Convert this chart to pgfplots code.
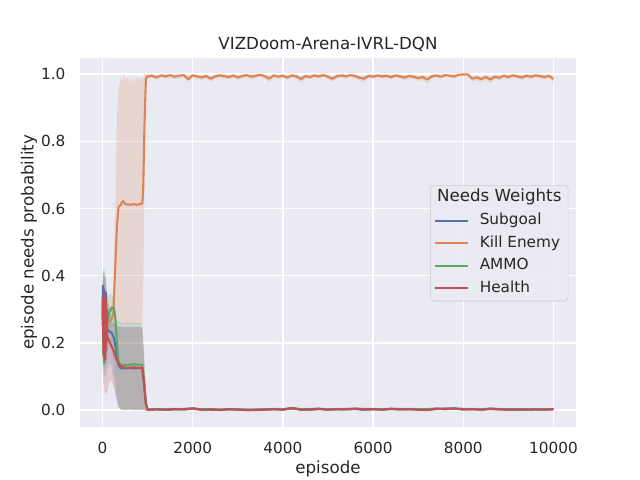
\documentclass[border=0pt]{standalone}
\usepackage{fontspec}
\setmainfont{DejaVu Sans}
\usepackage{pgfplots}
\usepackage{pgfplotstable}
\pgfplotsset{compat=1.18}
\usepgfplotslibrary{fillbetween}
\definecolor{cblue}{HTML}{4C72B0}
\definecolor{corange}{HTML}{DD8452}
\definecolor{cgreen}{HTML}{55A868}
\definecolor{cred}{HTML}{C44E52}
\definecolor{axisbg}{HTML}{EAEAF2}
\definecolor{txt}{HTML}{262626}
\definecolor{lgedge}{HTML}{CCCCCC}

\pgfplotstableread{
x m lo hi
0 0.30 0.14 0.40
10 0.37 0.15 0.42
20 0.20 0.12 0.41
30 0.36 0.13 0.42
40 0.14 0.10 0.40
50 0.33 0.11 0.41
60 0.17 0.09 0.39
70 0.35 0.10 0.40
80 0.20 0.10 0.37
90 0.30 0.11 0.36
100 0.24 0.12 0.34
150 0.235 0.14 0.30
200 0.23 0.13 0.27
250 0.215 0.08 0.26
300 0.18 0.04 0.255
350 0.135 0.01 0.25
400 0.125 0.002 0.25
500 0.124 0.0 0.248
600 0.125 0.002 0.249
700 0.124 0.0 0.248
800 0.125 0.001 0.249
880 0.125 0.0 0.248
920 0.08 0.0 0.16
960 0.02 -0.002 0.04
1000 0.001 -0.002 0.004
1200 0.003 0.000 0.007
1400 0.001 -0.002 0.005
1600 0.002 -0.001 0.006
1800 0.003 0.000 0.007
2000 0.004 0.001 0.008
2200 0.002 -0.001 0.006
2400 0.001 -0.002 0.005
2600 0.001 -0.002 0.005
2800 0.002 -0.001 0.006
3000 0.002 -0.001 0.006
3200 0.000 -0.002 0.004
3400 0.001 -0.002 0.005
3600 0.002 -0.001 0.006
3800 0.002 -0.001 0.006
4000 0.002 -0.001 0.006
4200 0.005 0.001 0.009
4400 0.002 -0.001 0.006
4600 0.001 -0.002 0.005
4800 0.003 0.000 0.007
5000 0.002 -0.001 0.006
5200 0.002 -0.001 0.006
5400 0.003 0.000 0.007
5600 0.003 0.000 0.007
5800 0.001 -0.002 0.005
6000 0.002 -0.001 0.006
6200 0.002 -0.001 0.006
6400 0.003 0.000 0.007
6600 0.003 0.000 0.007
6800 0.002 -0.001 0.006
7000 0.002 -0.001 0.006
7200 0.001 -0.002 0.005
7400 0.003 0.000 0.007
7600 0.004 0.001 0.008
7800 0.004 0.001 0.008
8000 0.003 0.000 0.007
8200 0.002 -0.001 0.006
8400 0.002 -0.001 0.006
8600 0.003 0.000 0.007
8800 0.003 0.000 0.007
9000 0.002 -0.001 0.006
9200 0.001 -0.002 0.005
9400 0.002 -0.001 0.006
9600 0.002 -0.001 0.006
9800 0.002 -0.001 0.006
10000 0.002 -0.001 0.006
}\tblue

\pgfplotstableread{
x m lo hi
0 0.27 0.16 0.38
10 0.30 0.17 0.39
20 0.22 0.15 0.40
30 0.32 0.18 0.41
40 0.20 0.15 0.40
50 0.30 0.18 0.40
60 0.24 0.18 0.38
70 0.29 0.20 0.38
80 0.25 0.20 0.36
90 0.27 0.21 0.35
100 0.26 0.22 0.34
150 0.265 0.24 0.31
200 0.27 0.25 0.30
240 0.29 0.25 0.36
280 0.42 0.25 0.60
320 0.55 0.255 0.88
356 0.605 0.255 0.96
400 0.61 0.255 0.99
430 0.618 0.255 0.975
460 0.622 0.256 1.0
500 0.613 0.255 0.985
550 0.612 0.254 0.99
600 0.611 0.255 0.975
650 0.612 0.256 0.99
700 0.613 0.255 0.98
750 0.611 0.255 0.99
800 0.612 0.254 0.985
850 0.614 0.255 0.99
880 0.615 0.255 0.985
900 0.65 0.35 0.99
930 0.85 0.65 1.0
960 0.98 0.95 1.0
980 0.993 0.985 1.0
1000 0.993 0.986 0.998
1100 0.995 0.988 1.000
1200 0.990 0.983 0.996
1300 0.996 0.989 1.000
1400 0.993 0.986 0.999
1500 0.997 0.990 1.000
1600 0.992 0.985 0.998
1700 0.995 0.988 1.000
1800 0.997 0.991 1.000
1900 0.985 0.974 0.993
2000 0.996 0.989 1.000
2100 0.993 0.986 0.999
2200 0.990 0.982 0.996
2300 0.994 0.987 1.000
2400 0.986 0.977 0.993
2500 0.993 0.986 0.999
2600 0.996 0.989 1.000
2700 0.994 0.987 1.000
2800 0.991 0.984 0.997
2900 0.996 0.989 1.000
3000 0.990 0.982 0.996
3100 0.994 0.987 1.000
3200 0.997 0.991 1.000
3300 0.992 0.985 0.998
3400 0.995 0.988 1.000
3500 0.998 0.992 1.000
3600 0.993 0.986 0.999
3700 0.987 0.976 0.994
3800 0.996 0.989 1.000
3900 0.992 0.985 0.998
4000 0.995 0.988 1.000
4100 0.990 0.982 0.996
4200 0.996 0.989 1.000
4300 0.993 0.986 0.999
4400 0.985 0.975 0.992
4500 0.994 0.987 1.000
4600 0.991 0.984 0.997
4700 0.996 0.989 1.000
4800 0.993 0.986 0.999
4900 0.997 0.991 1.000
5000 0.992 0.985 0.998
5100 0.986 0.976 0.993
5200 0.994 0.987 1.000
5300 0.996 0.989 1.000
5400 0.993 0.986 0.999
5500 0.997 0.991 1.000
5600 0.994 0.987 1.000
5700 0.989 0.980 0.995
5800 0.986 0.977 0.993
5900 0.995 0.988 1.000
6000 0.992 0.985 0.998
6100 0.996 0.989 1.000
6200 0.993 0.986 0.999
6300 0.995 0.988 1.000
6400 0.991 0.984 0.997
6500 0.996 0.989 1.000
6600 0.993 0.986 0.999
6700 0.990 0.982 0.996
6800 0.994 0.987 1.000
6900 0.992 0.985 0.998
7000 0.988 0.979 0.995
7100 0.991 0.983 0.997
7200 0.984 0.970 0.992
7300 0.993 0.986 0.999
7400 0.996 0.989 1.000
7500 0.992 0.985 0.998
7600 0.997 0.991 1.000
7700 0.995 0.988 1.000
7800 0.993 0.986 0.999
7900 0.998 0.993 1.000
8000 0.999 0.995 1.000
8100 0.999 0.995 1.000
8200 0.986 0.977 0.993
8300 0.990 0.982 0.996
8400 0.985 0.975 0.992
8500 0.991 0.983 0.997
8600 0.984 0.973 0.992
8700 0.992 0.985 0.998
8800 0.989 0.980 0.995
8900 0.995 0.988 1.000
9000 0.991 0.984 0.997
9100 0.996 0.989 1.000
9200 0.993 0.986 0.999
9300 0.990 0.982 0.996
9400 0.995 0.988 1.000
9500 0.992 0.985 0.998
9600 0.996 0.989 1.000
9700 0.994 0.987 1.000
9800 0.991 0.984 0.997
9900 0.995 0.988 1.000
10000 0.985 0.975 0.993
}\torange

\pgfplotstableread{
x m lo hi
0 0.28 0.14 0.40
10 0.33 0.15 0.41
20 0.16 0.12 0.40
30 0.34 0.14 0.42
40 0.14 0.11 0.41
50 0.31 0.12 0.42
60 0.20 0.12 0.40
70 0.30 0.13 0.39
80 0.22 0.14 0.37
90 0.27 0.15 0.36
100 0.26 0.16 0.35
150 0.29 0.20 0.34
200 0.305 0.19 0.35
250 0.305 0.13 0.33
280 0.28 0.09 0.29
320 0.20 0.04 0.265
350 0.145 0.015 0.262
400 0.135 0.003 0.26
500 0.134 0.001 0.259
600 0.135 0.002 0.26
700 0.136 0.001 0.26
800 0.135 0.002 0.259
880 0.135 0.001 0.258
920 0.09 0.0 0.17
960 0.02 -0.002 0.04
1000 0.001 -0.002 0.005
1200 0.002 -0.001 0.006
1400 0.002 -0.001 0.006
1600 0.003 0.000 0.007
1800 0.002 -0.001 0.006
2000 0.004 0.001 0.008
2200 0.002 -0.001 0.006
2400 0.003 0.000 0.007
2600 0.001 -0.002 0.005
2800 0.002 -0.001 0.006
3000 0.002 -0.001 0.006
3200 0.001 -0.002 0.005
3400 0.001 -0.002 0.005
3600 0.002 -0.001 0.006
3800 0.003 0.000 0.007
4000 0.002 -0.001 0.006
4200 0.005 0.001 0.009
4400 0.002 -0.001 0.006
4600 0.003 0.000 0.007
4800 0.003 0.000 0.007
5000 0.002 -0.001 0.006
5200 0.003 0.000 0.007
5400 0.002 -0.001 0.006
5600 0.004 0.001 0.008
5800 0.003 0.000 0.007
6000 0.003 0.000 0.007
6200 0.002 -0.001 0.006
6400 0.003 0.000 0.007
6600 0.002 -0.001 0.006
6800 0.003 0.000 0.007
7000 0.002 -0.001 0.006
7200 0.003 0.000 0.007
7400 0.004 0.001 0.008
7600 0.003 0.000 0.007
7800 0.004 0.001 0.008
8000 0.002 -0.001 0.006
8200 0.003 0.000 0.007
8400 0.002 -0.001 0.006
8600 0.004 0.001 0.008
8800 0.002 -0.001 0.006
9000 0.002 -0.001 0.006
9200 0.002 -0.001 0.006
9400 0.001 -0.002 0.005
9600 0.002 -0.001 0.006
9800 0.002 -0.001 0.006
10000 0.003 0.000 0.007
}\tgreen

\pgfplotstableread{
x m lo hi
0 0.25 0.12 0.38
10 0.33 0.10 0.39
20 0.17 0.08 0.40
30 0.35 0.07 0.40
40 0.16 0.06 0.39
50 0.30 0.05 0.40
60 0.15 0.05 0.38
70 0.33 0.04 0.37
80 0.18 0.05 0.36
90 0.30 0.05 0.35
100 0.22 0.05 0.33
150 0.205 0.08 0.29
200 0.19 0.09 0.26
250 0.175 0.07 0.255
300 0.155 0.035 0.25
350 0.14 0.01 0.248
400 0.13 0.002 0.247
500 0.126 0.0 0.246
600 0.126 0.001 0.247
700 0.127 0.0 0.246
800 0.126 0.001 0.247
880 0.126 0.0 0.246
920 0.08 0.0 0.16
960 0.02 -0.002 0.04
1000 0.001 -0.002 0.004
1200 0.002 -0.001 0.006
1400 0.001 -0.002 0.005
1600 0.003 0.000 0.007
1800 0.002 -0.001 0.006
2000 0.005 0.001 0.009
2200 0.001 -0.002 0.005
2400 0.002 -0.001 0.006
2600 0.000 -0.002 0.004
2800 0.003 0.000 0.007
3000 0.001 -0.002 0.005
3200 0.000 -0.002 0.004
3400 0.000 -0.002 0.004
3600 0.001 -0.002 0.005
3800 0.003 0.000 0.007
4000 0.001 -0.002 0.005
4200 0.006 0.002 0.010
4400 0.001 -0.002 0.005
4600 0.002 -0.001 0.006
4800 0.004 0.001 0.008
5000 0.001 -0.002 0.005
5200 0.003 0.000 0.007
5400 0.002 -0.001 0.006
5600 0.004 0.001 0.008
5800 0.002 -0.001 0.006
6000 0.003 0.000 0.007
6200 0.001 -0.002 0.005
6400 0.004 0.001 0.008
6600 0.002 -0.001 0.006
6800 0.003 0.000 0.007
7000 0.001 -0.002 0.005
7200 0.000 -0.002 0.004
7400 0.004 0.001 0.008
7600 0.003 0.000 0.007
7800 0.005 0.001 0.009
8000 0.002 -0.001 0.006
8200 0.003 0.000 0.007
8400 0.001 -0.002 0.005
8600 0.004 0.001 0.008
8800 0.002 -0.001 0.006
9000 0.001 -0.002 0.005
9200 0.002 -0.001 0.006
9400 0.001 -0.002 0.005
9600 0.002 -0.001 0.006
9800 0.001 -0.002 0.005
10000 0.003 0.000 0.007
}\tred

\begin{document}
\begin{tikzpicture}
\begin{axis}[
  at={(0,0)}, anchor=south west,
  scale only axis,
  width=357.12bp, height=266.112bp,
  xmin=-500, xmax=10500,
  ymin=-0.051, ymax=1.049,
  axis background/.style={fill=axisbg},
  axis line style={draw=none},
  major tick length=0pt,
  grid=major,
  major grid style={white, line width=1bp},
  xtick={0,2000,4000,6000,8000,10000},
  ytick={0,0.2,0.4,0.6,0.8,1.0},
  scaled x ticks=false,
  scaled y ticks=false,
  /pgf/number format/assume math mode=true,
  xticklabel style={/pgf/number format/1000 sep={}, font=\fontsize{11bp}{13bp}\selectfont, text=txt, inner sep=0pt, anchor=north, yshift=-10.8bp},
  yticklabel style={/pgf/number format/.cd, fixed, fixed zerofill, precision=1, /tikz/.cd, font=\fontsize{11bp}{13bp}\selectfont, text=txt, inner sep=0pt, anchor=east, xshift=-10.3bp},
  every axis title/.style={at={(axis description cs:0.5,1)}, anchor=base, yshift=6bp, font=\fontsize{12bp}{14bp}\selectfont, text=txt, inner sep=0pt},
  title={VIZDoom-Arena-IVRL-DQN},
  every axis x label/.style={at={(axis description cs:0.5,-0.1264)}, anchor=base, font=\fontsize{12bp}{14bp}\selectfont, text=txt, inner sep=0pt},
  every axis y label/.style={at={(axis description cs:-0.0937,0.5)}, rotate=90, anchor=base, font=\fontsize{12bp}{14bp}\selectfont, text=txt, inner sep=0pt},
  xlabel={episode},
  ylabel={episode needs probability},
  legend cell align=left,
  legend image code/.code={\draw[#1] (0bp,0bp) -- (23.5bp,0bp);},
  legend style={at={(0.9845,0.655)}, anchor=north east, draw=lgedge, fill=axisbg, fill opacity=0.8, draw opacity=1, text opacity=1, rounded corners=2.5bp, font=\fontsize{11bp}{13bp}\selectfont, text=txt, inner xsep=2.75bp, inner ysep=3.7bp, row sep=5.46bp, column sep=5.9bp, nodes={inner xsep=2bp, inner ysep=0pt, text height=8.2bp, text depth=2.6bp}},
]
% bands (below lines)
\addplot[draw=none, forget plot, name path=bl] table[x=x,y=lo]{\tblue};
\addplot[draw=none, forget plot, name path=bh] table[x=x,y=hi]{\tblue};
\addplot[fill=cblue, fill opacity=0.2, draw=none, forget plot] fill between[of=bl and bh];
\addplot[draw=none, forget plot, name path=ol] table[x=x,y=lo]{\torange};
\addplot[draw=none, forget plot, name path=oh] table[x=x,y=hi]{\torange};
\addplot[fill=corange, fill opacity=0.2, draw=none, forget plot] fill between[of=ol and oh];
\addplot[draw=none, forget plot, name path=gl] table[x=x,y=lo]{\tgreen};
\addplot[draw=none, forget plot, name path=gh] table[x=x,y=hi]{\tgreen};
\addplot[fill=cgreen, fill opacity=0.2, draw=none, forget plot] fill between[of=gl and gh];
\addplot[draw=none, forget plot, name path=rl] table[x=x,y=lo]{\tred};
\addplot[draw=none, forget plot, name path=rh] table[x=x,y=hi]{\tred};
\addplot[fill=cred, fill opacity=0.2, draw=none, forget plot] fill between[of=rl and rh];
% legend title
\addlegendimage{empty legend}
\addlegendentry{\hspace*{-30.7bp}\fontsize{12bp}{14bp}\selectfont Needs Weights}
% lines
\addplot[cblue, line width=1.5bp, line join=round, mark=none] table[x=x,y=m]{\tblue};
\addlegendentry{Subgoal}
\addplot[corange, line width=1.5bp, line join=round, mark=none] table[x=x,y=m]{\torange};
\addlegendentry{Kill Enemy}
\addplot[cgreen, line width=1.5bp, line join=round, mark=none] table[x=x,y=m]{\tgreen};
\addlegendentry{AMMO}
\addplot[cred, line width=1.5bp, line join=round, mark=none] table[x=x,y=m]{\tred};
\addlegendentry{Health}
\end{axis}
\pgfresetboundingbox
\path[use as bounding box] (-57.6bp,-38.016bp) rectangle (403.2bp,307.584bp);
\end{tikzpicture}
\end{document}
